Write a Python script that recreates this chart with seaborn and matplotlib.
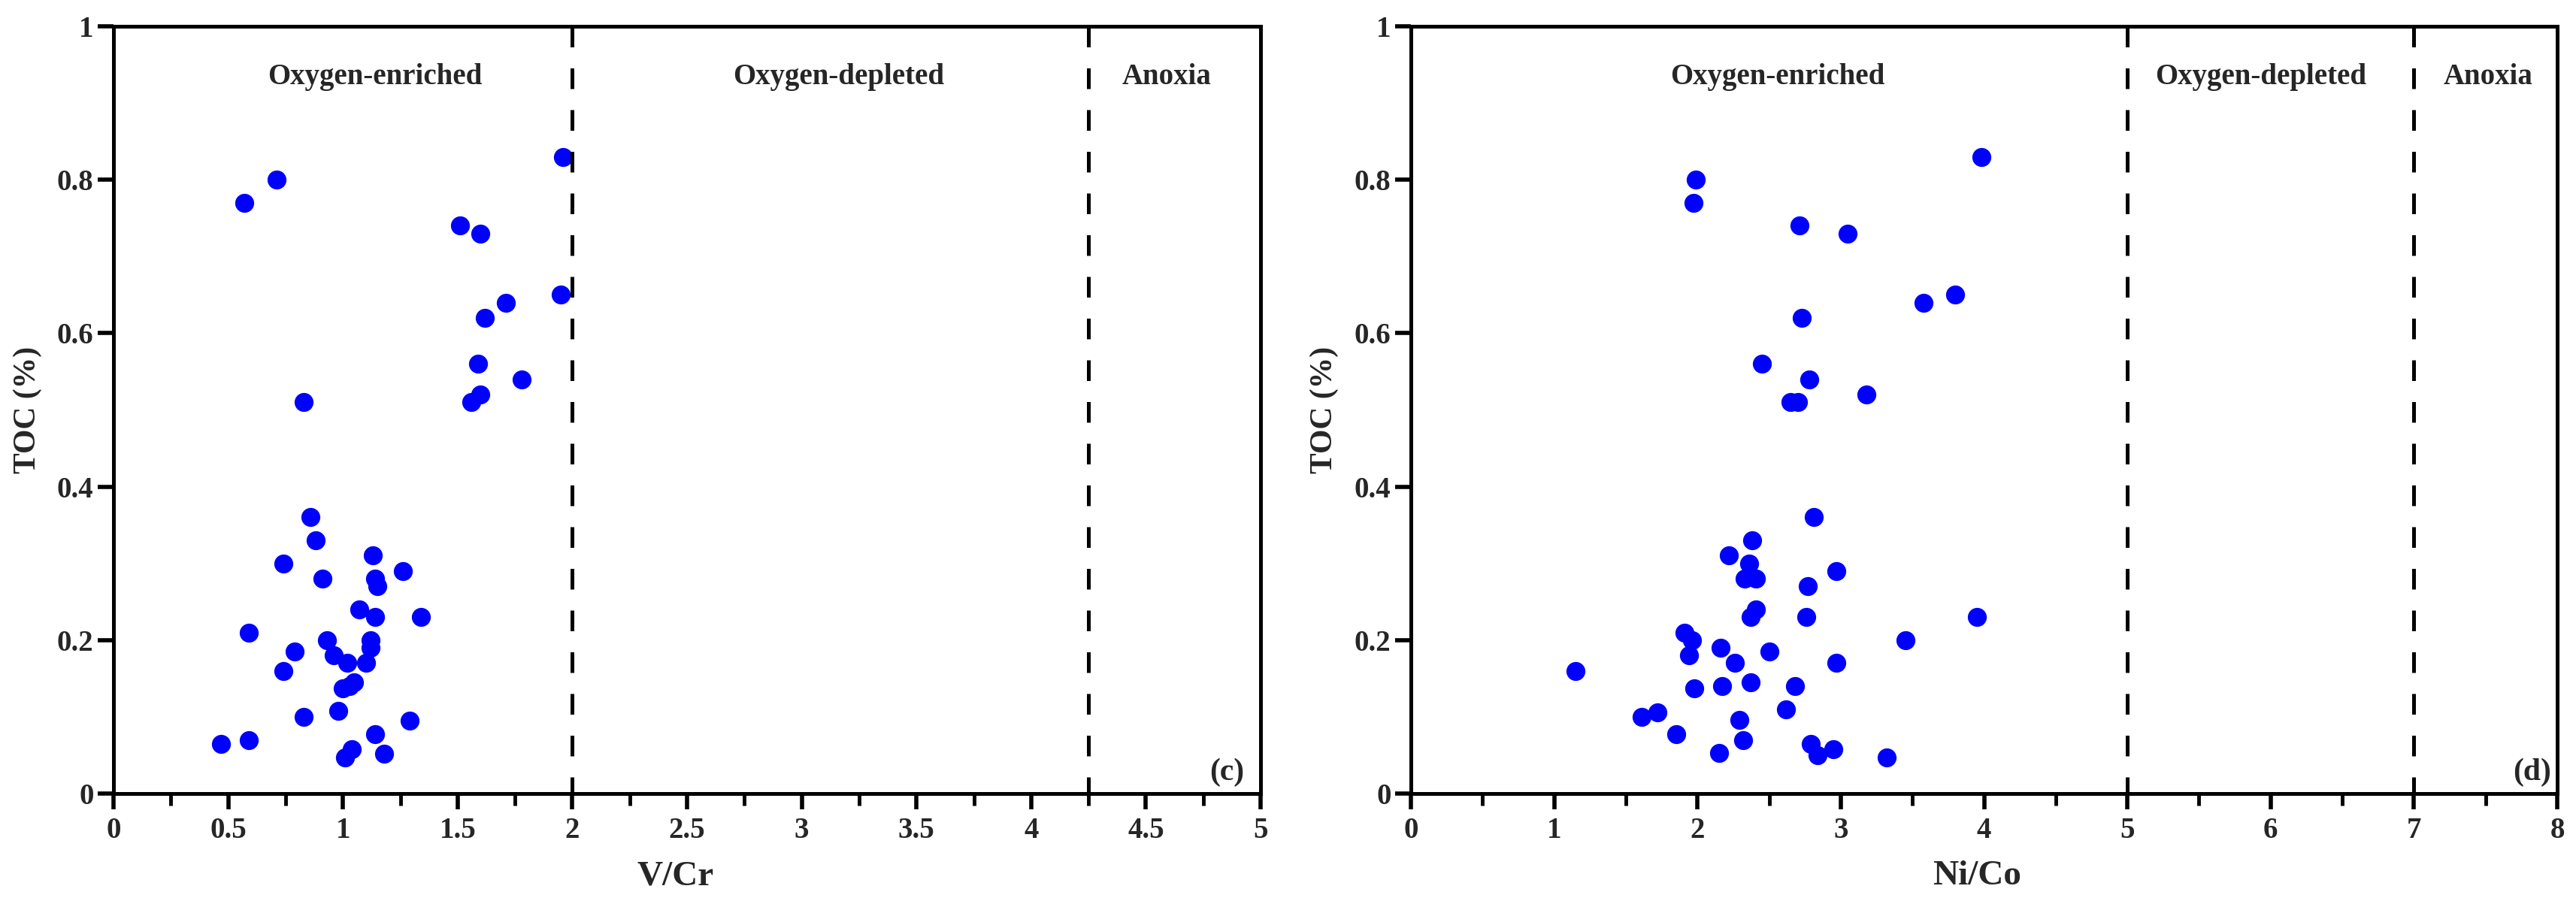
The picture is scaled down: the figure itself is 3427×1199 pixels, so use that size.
import numpy as np
import matplotlib
matplotlib.use("Agg")
import matplotlib.pyplot as plt
from matplotlib.ticker import MultipleLocator, FuncFormatter
import seaborn as sns

# V/Cr vs TOC  (panel c)
vcr = [1.96, 0.71, 0.57, 1.51, 1.60, 1.95, 1.71, 1.62, 1.59, 1.78, 1.60, 1.56, 0.83,
       0.86, 0.88, 1.13, 0.74, 1.26, 0.91, 1.14, 1.15, 1.07, 1.14, 1.34, 0.59, 0.93,
       1.12, 1.12, 0.79, 0.96, 1.02, 1.10, 0.74, 1.05, 1.00, 1.03, 0.98, 0.83, 1.29,
       1.14, 0.59, 0.47, 1.04, 1.18, 1.01]
toc_c = [0.83, 0.80, 0.77, 0.74, 0.73, 0.65, 0.64, 0.62, 0.56, 0.54, 0.52, 0.51, 0.51,
         0.36, 0.33, 0.31, 0.30, 0.29, 0.28, 0.28, 0.27, 0.24, 0.23, 0.23, 0.21, 0.20,
         0.20, 0.19, 0.185, 0.18, 0.17, 0.17, 0.16, 0.145, 0.137, 0.14, 0.108, 0.10, 0.095,
         0.077, 0.07, 0.065, 0.058, 0.052, 0.047]

# Ni/Co vs TOC  (panel d)
nico = [3.98, 1.99, 1.97, 2.71, 3.05, 3.80, 3.58, 2.73, 2.45, 2.78, 3.18, 2.65, 2.70,
        2.81, 2.38, 2.22, 2.36, 2.97, 2.33, 2.41, 2.77, 2.41, 2.37, 2.76, 3.95, 1.91,
        1.96, 3.45, 2.16, 2.50, 1.94, 2.26, 2.97, 1.15, 2.37, 2.17, 2.68, 1.98, 2.62,
        1.72, 1.61, 2.29, 1.85, 2.32, 2.79, 2.95, 2.15, 2.84, 3.32]
toc_d = [0.83, 0.80, 0.77, 0.74, 0.73, 0.65, 0.64, 0.62, 0.56, 0.54, 0.52, 0.51, 0.51,
         0.36, 0.33, 0.31, 0.30, 0.29, 0.28, 0.28, 0.27, 0.24, 0.23, 0.23, 0.23, 0.21,
         0.20, 0.20, 0.19, 0.185, 0.18, 0.17, 0.17, 0.16, 0.145, 0.14, 0.14, 0.137, 0.11,
         0.106, 0.10, 0.096, 0.077, 0.07, 0.065, 0.058, 0.053, 0.05, 0.047]

# boundaries and zone names
bounds_c = [2, 4.25]
bounds_d = [5, 7]
zones = ["Oxygen-enriched", "Oxygen-depleted", "Anoxia"]
zone_x_c = [1.14, 3.16, 4.59]
zone_x_d = [2.56, 5.93, 7.52]

sns.set_style("ticks")
plt.rcParams['font.family'] = ['Liberation Serif', 'DejaVu Serif']
plt.rcParams['font.weight'] = 'bold'
plt.rcParams['axes.labelweight'] = 'bold'

W, H = 3427, 1199
fig = plt.figure(figsize=(W / 100, H / 100), dpi=100)
axL = fig.add_axes([151 / W, 1 - 1056 / H, (1677 - 151) / W, (1056 - 35) / H])
axR = fig.add_axes([1877 / W, 1 - 1056 / H, (3402 - 1877) / W, (1056 - 35) / H])


def style(ax, x, y, xmax, major, bounds, zone_x, xlab, xlab_pos, ylab_pos, tag, tag_x):
    sns.scatterplot(x=x, y=y, ax=ax, color="#0000FF", s=330, linewidth=0, zorder=2)
    for b in bounds:
        ax.plot([b, b], [1, 0], color="black", lw=3.6, linestyle=(0, (5.5, 5.6)), zorder=3)
    for name, zx in zip(zones, zone_x):
        ax.text(zx, 0.925, name, ha="center", va="baseline", fontsize=28, fontweight="bold")
    ax.text(tag_x, 0.018, tag, transform=ax.transAxes, ha="right", va="baseline",
            fontsize=30, fontweight="bold")
    ax.set_xlim(0, xmax)
    ax.set_ylim(0, 1)
    ax.xaxis.set_major_locator(MultipleLocator(major))
    ax.xaxis.set_minor_locator(MultipleLocator(major / 2))
    ax.yaxis.set_major_locator(MultipleLocator(0.2))
    fmt = FuncFormatter(lambda v, p: "%g" % round(v, 2))
    ax.xaxis.set_major_formatter(fmt)
    ax.yaxis.set_major_formatter(fmt)
    for s in ax.spines.values():
        s.set_visible(True)
        s.set_color("black")
        s.set_linewidth(3.6)
    ax.tick_params(axis="both", which="major", direction="out", length=15, width=4,
                   color="black", labelsize=28, pad=4)
    ax.tick_params(axis="x", which="minor", direction="out", length=11.5, width=3.5,
                   color="black")
    ax.tick_params(axis="x", which="major", pad=7)
    ax.set_xlabel(xlab, fontsize=34, fontweight="bold", va="center")
    ax.xaxis.set_label_coords(xlab_pos, -0.108)
    ax.set_ylabel("TOC (%)", fontsize=30, fontweight="bold", va="center")
    ax.yaxis.set_label_coords(ylab_pos, 0.5)


style(axL, vcr, toc_c, 5, 0.5, bounds_c, zone_x_c, "V/Cr", 0.49, -0.075, "(c)", 0.986)
style(axR, nico, toc_d, 8, 1, bounds_d, zone_x_d, "Ni/Co", 0.494, -0.0756, "(d)", 0.995)

fig.savefig("out.png", dpi=100)
